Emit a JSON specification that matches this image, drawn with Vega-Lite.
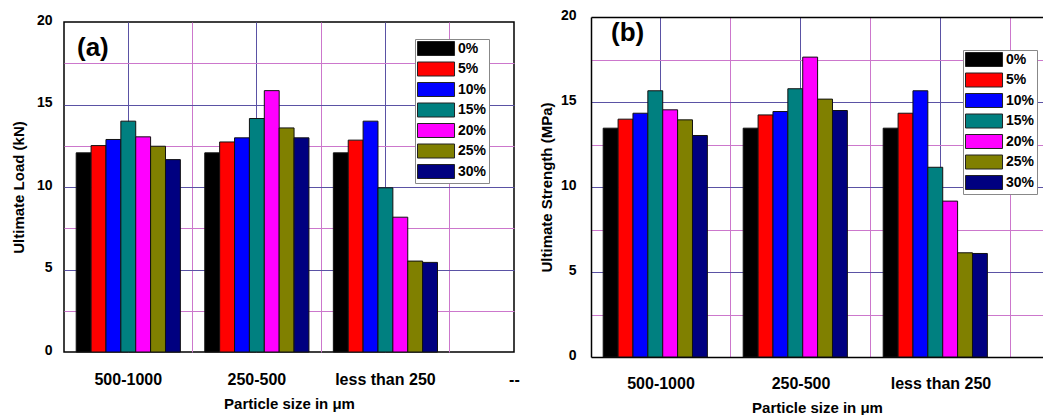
{
  "$schema": "https://vega.github.io/schema/vega-lite/v6.json",
  "padding": {"left": 10, "top": 8, "right": 0, "bottom": 0},
  "autosize": {"type": "pad"},
  "bounds": "flush",
  "center": true,
  "spacing": 77,
  "resolve": {"scale": {"color": "independent"}, "legend": {"color": "independent"}},
  "datasets": {
    "load": [
      {"Size": "500-1000", "Content": "0%", "Load": 12.07},
      {"Size": "500-1000", "Content": "5%", "Load": 12.51},
      {"Size": "500-1000", "Content": "10%", "Load": 12.88},
      {"Size": "500-1000", "Content": "15%", "Load": 13.99},
      {"Size": "500-1000", "Content": "20%", "Load": 13.04},
      {"Size": "500-1000", "Content": "25%", "Load": 12.47},
      {"Size": "500-1000", "Content": "30%", "Load": 11.66},
      {"Size": "250-500", "Content": "0%", "Load": 12.07},
      {"Size": "250-500", "Content": "5%", "Load": 12.73},
      {"Size": "250-500", "Content": "10%", "Load": 12.98},
      {"Size": "250-500", "Content": "15%", "Load": 14.15},
      {"Size": "250-500", "Content": "20%", "Load": 15.84},
      {"Size": "250-500", "Content": "25%", "Load": 13.58},
      {"Size": "250-500", "Content": "30%", "Load": 12.98},
      {"Size": "less than 250", "Content": "0%", "Load": 12.07},
      {"Size": "less than 250", "Content": "5%", "Load": 12.84},
      {"Size": "less than 250", "Content": "10%", "Load": 13.99},
      {"Size": "less than 250", "Content": "15%", "Load": 9.95},
      {"Size": "less than 250", "Content": "20%", "Load": 8.17},
      {"Size": "less than 250", "Content": "25%", "Load": 5.51},
      {"Size": "less than 250", "Content": "30%", "Load": 5.43}
    ],
    "strength": [
      {"Size": "500-1000", "Content": "0%", "Strength": 13.46},
      {"Size": "500-1000", "Content": "5%", "Strength": 13.99},
      {"Size": "500-1000", "Content": "10%", "Strength": 14.34},
      {"Size": "500-1000", "Content": "15%", "Strength": 15.66},
      {"Size": "500-1000", "Content": "20%", "Strength": 14.54},
      {"Size": "500-1000", "Content": "25%", "Strength": 13.95},
      {"Size": "500-1000", "Content": "30%", "Strength": 13.03},
      {"Size": "250-500", "Content": "0%", "Strength": 13.46},
      {"Size": "250-500", "Content": "5%", "Strength": 14.24},
      {"Size": "250-500", "Content": "10%", "Strength": 14.44},
      {"Size": "250-500", "Content": "15%", "Strength": 15.78},
      {"Size": "250-500", "Content": "20%", "Strength": 17.64},
      {"Size": "250-500", "Content": "25%", "Strength": 15.17},
      {"Size": "250-500", "Content": "30%", "Strength": 14.5},
      {"Size": "less than 250", "Content": "0%", "Strength": 13.46},
      {"Size": "less than 250", "Content": "5%", "Strength": 14.34},
      {"Size": "less than 250", "Content": "10%", "Strength": 15.66},
      {"Size": "less than 250", "Content": "15%", "Strength": 11.16},
      {"Size": "less than 250", "Content": "20%", "Strength": 9.17},
      {"Size": "less than 250", "Content": "25%", "Strength": 6.13},
      {"Size": "less than 250", "Content": "30%", "Strength": 6.09}
    ]
  },
  "hconcat": [
    {
      "width": 450,
      "height": 330,
      "data": {"name": "load"},
      "view": {"stroke": "black", "strokeWidth": 1.5},
      "layer": [
        {
          "mark": {"type": "bar", "stroke": "#111", "strokeWidth": 1},
          "encoding": {
            "x": {
              "field": "Size", "type": "nominal",
              "scale": {"domain": ["500-1000", "250-500", "less than 250"], "paddingInner": 0, "paddingOuter": 0.25, "align": 0},
              "axis": {"title": "Particle size in μm", "labelAngle": 0, "labelPadding": 19, "titlePadding": 9, "grid": true, "bandPosition": 0.5, "gridColor": "#5a52a4"}
            },
            "xOffset": {"field": "Content", "type": "nominal", "scale": {"domain": ["0%", "5%", "10%", "15%", "20%", "25%", "30%"], "paddingInner": 0, "paddingOuter": 0.82}},
            "y": {
              "field": "Load", "type": "quantitative",
              "scale": {"domain": [0, 20], "nice": false},
              "axis": {"title": "Ultimate Load (kN)", "values": [0, 5, 10, 15, 20], "labelPadding": 12, "titlePadding": 10, "labelOffset": -2, "grid": true,
                "gridColor": {"condition": {"test": "datum.value === 0 || datum.value === 20", "value": "transparent"}, "value": "#5a52a4"}}
            },
            "color": {
              "field": "Content", "type": "nominal",
              "scale": {"domain": ["0%", "5%", "10%", "15%", "20%", "25%", "30%"], "range": ["#000000", "#ff0000", "#0000ff", "#008080", "#ff00ff", "#808000", "#000080"]},
              "legend": {"orient": "none", "legendX": 351, "legendY": 17, "title": null}
            }
          }
        },
        {
          "mark": {"type": "bar", "opacity": 0},
          "encoding": {
            "x": {"field": "Size", "type": "nominal", "axis": {"orient": "top", "values": ["500-1000", "250-500", "less than 250"], "bandPosition": 1, "labels": false, "title": null, "grid": true, "gridColor": "#cc77cc"}},
            "y": {"field": "Load", "type": "quantitative", "stack": null, "axis": {"orient": "right", "values": [2.5, 7.5, 12.5, 17.5], "labels": false, "title": null, "grid": true, "gridColor": "#cc77cc"}}
          }
        },
        {
          "data": {"values": [{"Panel": "(a)"}]},
          "mark": {"type": "text", "align": "left", "baseline": "top", "dx": 13, "fontSize": 26, "fontWeight": "bold", "font": "Liberation Sans", "color": "black"},
          "encoding": {
            "text": {"field": "Panel"},
            "x": {"datum": "500-1000", "bandPosition": 0,
              "axis": {"orient": "bottom", "values": ["less than 250"], "labelOffset": 129, "labelExpr": "'--'", "labelAngle": 0, "labelPadding": 19, "title": null, "grid": false}},
            "y": {"datum": 19.2, "axis": null}
          }
        }
      ],
      "resolve": {"axis": {"x": "independent", "y": "independent"}}
    },
    {
      "width": 452,
      "height": 340,
      "data": {"name": "strength"},
      "view": {"stroke": null},
      "layer": [
        {
          "mark": {"type": "bar", "stroke": "#111", "strokeWidth": 1},
          "encoding": {
            "x": {
              "field": "Size", "type": "nominal",
              "scale": {"domain": ["500-1000", "250-500", "less than 250"], "paddingInner": 0, "paddingOuter": 0.1143, "align": 0},
              "axis": {"title": "Particle size in μm", "labelAngle": 0, "labelPadding": 18, "titlePadding": 9, "grid": true, "bandPosition": 0.5, "gridColor": "#5a52a4",
                "domain": true, "domainColor": "black", "domainWidth": 1.5}
            },
            "xOffset": {"field": "Content", "type": "nominal", "scale": {"domain": ["0%", "5%", "10%", "15%", "20%", "25%", "30%"], "paddingInner": 0, "paddingOuter": 0.875}},
            "y": {
              "field": "Strength", "type": "quantitative",
              "scale": {"domain": [0, 20], "nice": false},
              "axis": {"title": "Ultimate Strength (MPa)", "values": [0, 5, 10, 15, 20], "labelPadding": 15, "titlePadding": 6, "labelOffset": -2, "grid": true,
                "gridColor": {"condition": {"test": "datum.value === 0 || datum.value === 20", "value": "transparent"}, "value": "#5a52a4"},
                "domain": true, "domainColor": "black", "domainWidth": 1.5}
            },
            "color": {
              "field": "Content", "type": "nominal",
              "scale": {"domain": ["0%", "5%", "10%", "15%", "20%", "25%", "30%"], "range": ["#000000", "#ff0000", "#0000ff", "#008080", "#ff00ff", "#808000", "#000080"]},
              "legend": {"orient": "none", "legendX": 372, "legendY": 33, "title": null}
            }
          }
        },
        {
          "mark": {"type": "bar", "opacity": 0},
          "encoding": {
            "x": {"field": "Size", "type": "nominal", "axis": {"orient": "top", "values": ["500-1000", "250-500", "less than 250"], "bandPosition": 1, "labels": false, "title": null, "grid": true, "gridColor": "#cc77cc",
              "domain": true, "domainColor": "black", "domainWidth": 1.5}},
            "y": {"field": "Strength", "type": "quantitative", "stack": null, "axis": {"orient": "right", "values": [2.5, 7.5, 12.5, 17.5], "labels": false, "title": null, "grid": true, "gridColor": "#cc77cc"}}
          }
        },
        {
          "data": {"values": [{"Panel": "(b)"}]},
          "mark": {"type": "text", "align": "left", "baseline": "top", "dx": 20, "fontSize": 26, "fontWeight": "bold", "font": "Liberation Sans", "color": "black"},
          "encoding": {
            "text": {"field": "Panel"},
            "x": {"datum": "500-1000", "bandPosition": 0, "axis": null},
            "y": {"datum": 19.85, "axis": null}
          }
        }
      ],
      "resolve": {"axis": {"x": "independent", "y": "independent"}}
    }
  ],
  "config": {
    "font": "Liberation Sans",
    "axis": {
      "labelFont": "Liberation Sans", "labelFontWeight": "bold", "labelFontSize": 14, "labelColor": "black",
      "titleFont": "Liberation Sans", "titleFontWeight": "bold", "titleFontSize": 15, "titleColor": "black",
      "ticks": false, "tickSize": 0, "domain": false, "gridWidth": 1, "gridOpacity": 1
    },
    "axisX": {"labelFontSize": 16},
    "legend": {
      "labelFont": "Liberation Sans", "labelFontWeight": "bold", "labelFontSize": 14, "labelColor": "black",
      "symbolType": "M-1,-1L4.29,-1L4.29,1L-1,1Z", "symbolSize": 196, "symbolStrokeColor": "#222", "symbolStrokeWidth": 1, "symbolOpacity": 1,
      "labelOffset": 26, "rowPadding": 1.5, "padding": 2, "strokeColor": "#888", "fillColor": "white", "cornerRadius": 0
    }
  }
}
